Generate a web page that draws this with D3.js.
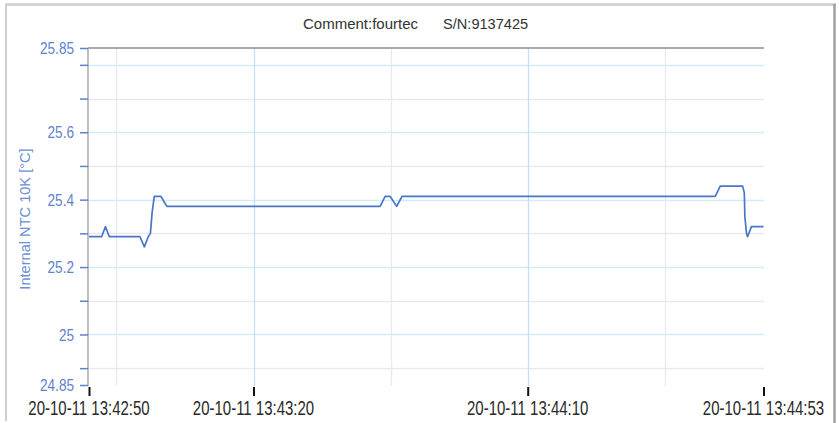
<!DOCTYPE html>
<html>
<head>
<meta charset="utf-8">
<script src="https://cdn.jsdelivr.net/npm/d3@7/dist/d3.min.js"></script>
<style>
  html, body { margin: 0; padding: 0; background: #fff; }
  svg { display: block; font-family: "Liberation Sans", Arial, sans-serif; }
</style>
</head>
<body>
<svg id="chart" width="839" height="423"></svg>
<script>
// Logger record: internal NTC 10K temperature
const loggerComment = "Comment:fourtec";
const serialNumber = "S/N:9137425";
const axisTitle = "Internal NTC 10K [°C]";
const recordStart = "2020-10-11 13:42:50";
const recordEnd = "2020-10-11 13:44:53";

// Seconds elapsed since recordStart, and the reading at each moment
const elapsedSec = [0, 2.3, 3.0, 3.7, 9.3, 10.1, 10.8, 11.2, 11.5, 11.9, 13.1, 14.2,
  53.1, 54.0, 54.9, 56.1, 57.1, 114.2, 114.8, 115.1, 119.2, 119.5, 119.6, 119.9,
  120.1, 120.8, 123.0];
const tempC = [25.29, 25.29, 25.32, 25.29, 25.29, 25.26, 25.29, 25.30, 25.36, 25.41, 25.41, 25.38,
  25.38, 25.41, 25.41, 25.38, 25.41, 25.41, 25.43, 25.44, 25.44, 25.42, 25.35, 25.30,
  25.29, 25.32, 25.32];

// Axis ticks and grid
const xTickTimes = ["2020-10-11 13:42:50", "2020-10-11 13:43:20", "2020-10-11 13:44:10", "2020-10-11 13:44:53"];
const xGridTimes = ["2020-10-11 13:42:55", "2020-10-11 13:43:20", "2020-10-11 13:43:45", "2020-10-11 13:44:10", "2020-10-11 13:44:35"];
const xMajorGridTimes = ["2020-10-11 13:43:20", "2020-10-11 13:44:10"];
const yLabelTicks = [24.85, 25, 25.2, 25.4, 25.6, 25.85];
const yGridValues = [24.9, 25.0, 25.1, 25.2, 25.3, 25.4, 25.5, 25.6, 25.7, 25.8];
const yMajorGridValues = [25.0, 25.2, 25.4, 25.6, 25.8];
const yDomain = [24.85, 25.85];

const parse = d3.timeParse("%Y-%m-%d %H:%M:%S");
const fmt = d3.timeFormat("%y-%m-%d %H:%M:%S");
const t0 = parse(recordStart);
const series = elapsedSec.map((s, i) => ({ t: new Date(t0.getTime() + s * 1000), v: tempC[i] }));

const svg = d3.select("#chart");
const plot = { left: 88, right: 764, top: 48, bottom: 385 };

const x = d3.scaleTime().domain([t0, parse(recordEnd)]).range([89, 763.5]);
const y = d3.scaleLinear().domain(yDomain).range([plot.bottom, plot.top]);

const blue = "#5f82cc";

// Window frame
svg.append("line").attr("x1", 5).attr("x2", 836).attr("y1", 4.5).attr("y2", 4.5)
  .attr("stroke", "#d4d4d4").attr("stroke-width", 3);
svg.append("line").attr("x1", 6).attr("x2", 6).attr("y1", 4).attr("y2", 421)
  .attr("stroke", "#cfcfcf").attr("stroke-width", 2);
svg.append("line").attr("x1", 834.5).attr("x2", 834.5).attr("y1", 4).attr("y2", 423)
  .attr("stroke", "#a0a0a0").attr("stroke-width", 2.5);

// Header
svg.append("text").attr("x", 303).attr("y", 28.5).attr("font-size", 15).attr("fill", "#333")
  .text(loggerComment);
svg.append("text").attr("x", 443).attr("y", 28.5).attr("font-size", 14.6).attr("fill", "#333")
  .text(serialNumber);

// Horizontal grid
svg.append("g").selectAll("line").data(yGridValues).join("line")
  .attr("x1", plot.left).attr("x2", plot.right)
  .attr("y1", d => Math.round(y(d)) + 0.5).attr("y2", d => Math.round(y(d)) + 0.5)
  .attr("stroke", d => yMajorGridValues.some(m => Math.abs(m - d) < 1e-9) ? "#d3eaf9" : "#e9e9ec")
  .attr("stroke-width", 1.4);

// Vertical grid
svg.append("g").selectAll("line").data(xGridTimes.map(parse)).join("line")
  .attr("x1", d => Math.round(x(d)) + 0.5).attr("x2", d => Math.round(x(d)) + 0.5)
  .attr("y1", plot.top).attr("y2", plot.bottom + 1)
  .attr("stroke", d => xMajorGridTimes.map(s => +parse(s)).includes(+d) ? "#bfe1f6" : "#e6e9f1")
  .attr("stroke-width", 1.3);

// Plot frame: top edge and left axis line
svg.append("line").attr("x1", plot.left).attr("x2", plot.right).attr("y1", plot.top).attr("y2", plot.top)
  .attr("stroke", "#8c8c8c").attr("stroke-width", 1.6);
svg.append("line").attr("x1", plot.left).attr("x2", plot.left).attr("y1", plot.top).attr("y2", plot.bottom + 1)
  .attr("stroke", "#b0b0b0").attr("stroke-width", 1.6);

// Y axis ticks and labels
const yAxis = d3.axisLeft(y).tickValues(yGridValues.concat([24.85, 25.85])).tickSize(8).tickFormat("");
const gy = svg.append("g").attr("transform", `translate(${plot.left},0)`).call(yAxis);
gy.select(".domain").remove();
gy.selectAll(".tick line").attr("stroke", blue).attr("stroke-width", 1.5);

svg.append("g").selectAll("g").data(yLabelTicks).join("g")
  .attr("transform", d => `translate(74,${y(d)})`)
  .append("text")
  .attr("text-anchor", "end").attr("dy", "0.36em")
  .attr("transform", "scale(1,1.26)")
  .attr("font-size", 13.6).attr("fill", blue)
  .text(d => String(d));

// Y axis title
svg.append("text")
  .attr("transform", "translate(30,219) rotate(-90)")
  .attr("text-anchor", "middle").attr("font-size", 14.6).attr("fill", "#6a8fd6")
  .text(axisTitle);

// X axis ticks and labels
const xAxis = d3.axisBottom(x).tickValues(xTickTimes.map(parse)).tickSize(9).tickFormat("");
const gx = svg.append("g").attr("transform", "translate(0,387)").call(xAxis);
gx.select(".domain").remove();
gx.selectAll(".tick line").attr("stroke", "#111").attr("stroke-width", 2);

svg.append("g").selectAll("g").data(xTickTimes.map(parse)).join("g")
  .attr("transform", d => `translate(${x(d)},407.5)`)
  .append("text")
  .attr("text-anchor", "middle").attr("dy", "0.36em")
  .attr("transform", "scale(1,1.4)")
  .attr("font-size", 15).attr("fill", "#2a2a2a")
  .text(d => fmt(d));

// Temperature trace
const line = d3.line().x(d => x(d.t)).y(d => y(d.v));
svg.append("path").datum(series)
  .attr("d", line)
  .attr("fill", "none").attr("stroke", "#4a76c8").attr("stroke-width", 1.7)
  .attr("stroke-linejoin", "round");
</script>
</body>
</html>
